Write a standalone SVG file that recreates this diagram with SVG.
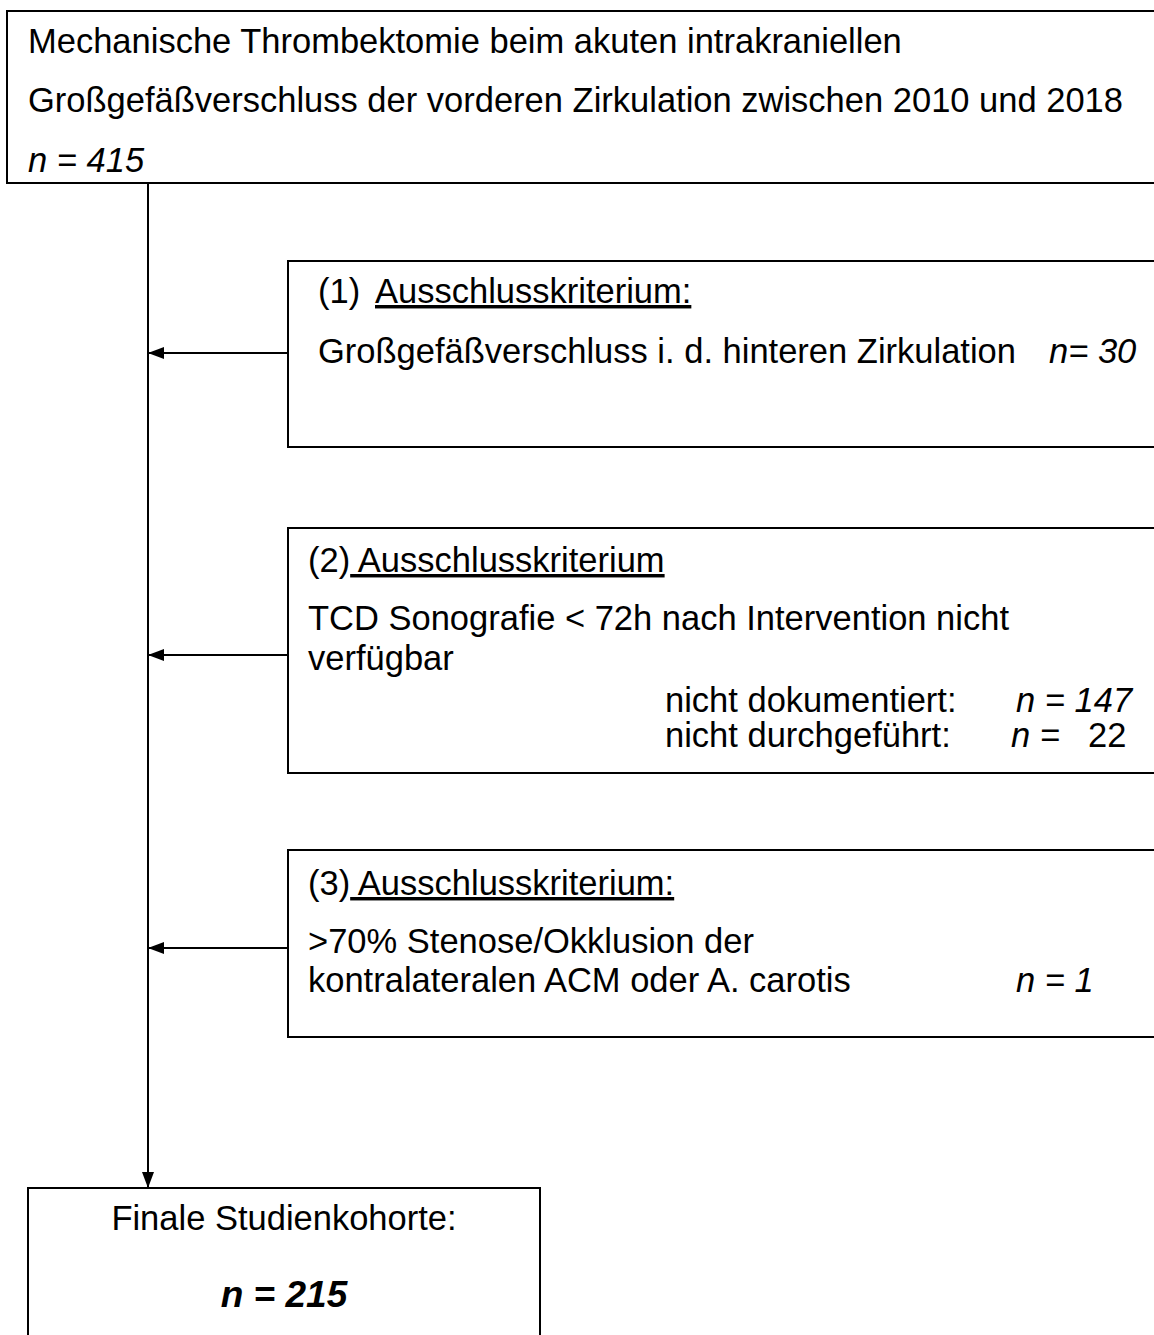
<svg xmlns="http://www.w3.org/2000/svg" width="1154" height="1335" viewBox="0 0 1154 1335">
<style>
.box{fill:#fff;stroke:#000;stroke-width:2}
.t{font-family:"Liberation Sans",Arial,sans-serif;font-size:34.5px;fill:#000}
.i{font-style:italic}
.u{text-decoration:underline}
.con{stroke:#000;stroke-width:2;fill:none}
</style>
<defs>
<marker id="ah" viewBox="0 0 16 12" refX="16" refY="6" markerWidth="16" markerHeight="12" markerUnits="userSpaceOnUse" orient="auto">
<path d="M0,0 L16,6 L0,12 Z" fill="#000"/>
</marker>
</defs>
<rect width="1154" height="1335" fill="#fff"/>
<g id="start">
<rect class="box" x="7" y="11" width="1160" height="172"/>
<text class="t" x="28" y="53">Mechanische Thrombektomie beim akuten intrakraniellen</text>
<text class="t" x="28" y="112">Großgefäßverschluss der vorderen Zirkulation zwischen 2010 und 2018</text>
<text class="t i" x="28" y="172">n = 415</text>
</g>
<g id="excl1">
<rect class="box" x="288" y="261" width="880" height="186"/>
<text class="t" x="318" y="303">(1)</text>
<text class="t u" x="375" y="303">Ausschlusskriterium:</text>
<text class="t" x="318" y="363">Großgefäßverschluss i. d. hinteren Zirkulation</text>
<text class="t i" x="1049" y="363">n= 30</text>
</g>
<g id="excl2">
<rect class="box" x="288" y="528" width="880" height="245"/>
<text class="t" x="308" y="572">(2)<tspan class="u"> Ausschlusskriterium</tspan></text>
<text class="t" x="308" y="630">TCD Sonografie &lt; 72h nach Intervention nicht</text>
<text class="t" x="308" y="670">verfügbar</text>
<text class="t" x="665" y="712">nicht dokumentiert:</text>
<text class="t i" x="1016" y="712">n = 147</text>
<text class="t" x="665" y="747">nicht durchgeführt:</text>
<text class="t i" x="1011" y="747">n =</text>
<text class="t" x="1088" y="747">22</text>
</g>
<g id="excl3">
<rect class="box" x="288" y="850" width="880" height="187"/>
<text class="t" x="308" y="895">(3)<tspan class="u"> Ausschlusskriterium:</tspan></text>
<text class="t" x="308" y="953">&gt;70% Stenose/Okklusion der</text>
<text class="t" x="308" y="992">kontralateralen ACM oder A. carotis</text>
<text class="t i" x="1016" y="992">n = 1</text>
</g>
<g id="final">
<rect class="box" x="28" y="1188" width="512" height="170"/>
<text class="t" x="284" y="1230" text-anchor="middle">Finale Studienkohorte:</text>
<text class="t i" x="284" y="1307" text-anchor="middle" style="font-weight:bold;font-size:37px">n = 215</text>
</g>
<g id="connectors">
<line class="con" x1="148" y1="183" x2="148" y2="1188" marker-end="url(#ah)"/>
<line class="con" x1="288" y1="353" x2="148" y2="353" marker-end="url(#ah)"/>
<line class="con" x1="288" y1="655" x2="148" y2="655" marker-end="url(#ah)"/>
<line class="con" x1="288" y1="948" x2="148" y2="948" marker-end="url(#ah)"/>
</g>
</svg>
